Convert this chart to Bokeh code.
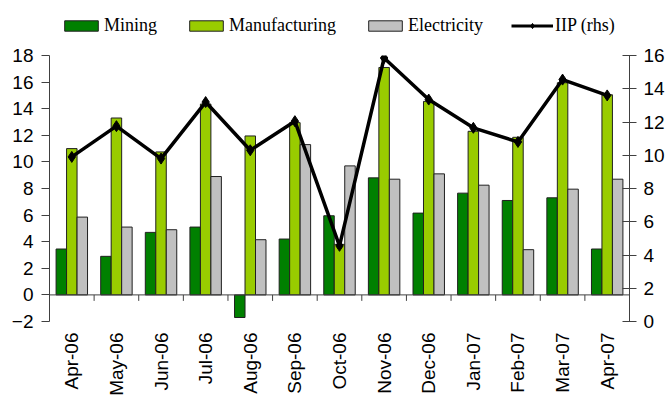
import numpy as np
from bokeh.plotting import figure
from bokeh.layouts import column
from bokeh.models import (LinearAxis, Range1d, FixedTicker, Legend, LegendItem, Span)
from bokeh.embed import file_html
from bokeh.resources import INLINE

months = ["Apr-06", "May-06", "Jun-06", "Jul-06", "Aug-06", "Sep-06", "Oct-06",
          "Nov-06", "Dec-06", "Jan-07", "Feb-07", "Mar-07", "Apr-07"]
mining = [3.45, 2.9, 4.7, 5.1, -1.7, 4.2, 5.95, 8.8, 6.15, 7.65, 7.1, 7.3, 3.45]
manufacturing = [11.0, 13.3, 10.75, 14.35, 11.95, 12.95, 3.8, 17.1, 14.55, 12.3, 11.85, 15.95, 15.05]
electricity = [5.85, 5.1, 4.9, 8.9, 4.15, 11.3, 9.7, 8.7, 9.1, 8.25, 3.4, 7.95, 8.7]
iip = [9.9, 11.75, 9.8, 13.2, 10.3, 12.05, 4.55, 15.85, 13.35, 11.65, 10.8, 14.55, 13.6]
series_names = ["Mining", "Manufacturing", "Electricity", "IIP (rhs)"]

left_ticks = list(range(-2, 19, 2))
right_ticks = list(range(0, 17, 2))

COL_MIN, COL_MAN, COL_ELE = "#008000", "#99cc00", "#c0c0c0"
OUTLINE = "#202020"

n = len(months)
xc = np.arange(n) + 0.5
bw = 0.235

# ---------------- legend strip ----------------
LEG_H = 43
lg = figure(width=668, height=LEG_H, output_backend="svg", toolbar_location=None,
            x_axis_type=None, y_axis_type=None, x_range=Range1d(0, 1), y_range=Range1d(0, 1),
            min_border_left=0, min_border_right=0, min_border_top=0, min_border_bottom=0)
lg.outline_line_color = None
lg.xgrid.visible = False
lg.ygrid.visible = False
lg.background_fill_color = "white"
lg.border_fill_color = "white"

# legend proxies (kept outside the visible range so only their legend swatches show)
d_min = lg.vbar(x=[-5], top=[-5], bottom=-6, width=0.1, fill_color=COL_MIN, line_color=OUTLINE)
d_man = lg.vbar(x=[-5], top=[-5], bottom=-6, width=0.1, fill_color=COL_MAN, line_color=OUTLINE)
d_ele = lg.vbar(x=[-5], top=[-5], bottom=-6, width=0.1, fill_color=COL_ELE, line_color=OUTLINE)
d_line = lg.line(x=[-5, -4], y=[-5, -5], line_color="black", line_width=3)
d_pts = lg.scatter(x=[-5], y=[-5], marker="diamond", size=9, fill_color="black", line_color="black")

legend = Legend(items=[
    LegendItem(label=series_names[0], renderers=[d_min]),
    LegendItem(label=series_names[1], renderers=[d_man]),
    LegendItem(label=series_names[2], renderers=[d_ele]),
    LegendItem(label=series_names[3], renderers=[d_line, d_pts]),
], orientation="horizontal", location=(11, 7))
legend.border_line_color = None
legend.background_fill_alpha = 0
legend.padding = 0
legend.margin = 0
legend.spacing = 28
legend.label_standoff = 2
legend.glyph_width = 42
legend.glyph_height = 13
legend.label_text_font = "Liberation Serif"
legend.label_text_font_size = "18px"
legend.label_text_color = "black"
lg.add_layout(legend, "center")

# ---------------- main chart ----------------
p = figure(width=668, height=402 - LEG_H, output_backend="svg", toolbar_location=None,
           x_range=Range1d(0, n), y_range=Range1d(-2, 18),
           min_border_left=49, min_border_right=39, min_border_top=12, min_border_bottom=81)
p.extra_y_ranges = {"rhs": Range1d(0, 16)}
p.outline_line_color = None
p.xgrid.visible = False
p.ygrid.visible = False
p.background_fill_color = "white"
p.border_fill_color = "white"

TICK_FONT = "Liberation Sans"
AX_COL = "#404040"
FS = "19px"

ly = p.yaxis[0]
ly.ticker = FixedTicker(ticks=left_ticks)
ly.major_tick_in = 0
ly.major_tick_out = 8
ly.minor_tick_line_color = None
ly.axis_line_color = AX_COL
ly.major_tick_line_color = AX_COL
ly.major_label_text_font = TICK_FONT
ly.major_label_text_font_size = FS
ly.major_label_text_color = "black"
ly.major_label_standoff = 8

ry = LinearAxis(y_range_name="rhs", ticker=FixedTicker(ticks=right_ticks))
ry.major_tick_in = 7
ry.major_tick_out = 7
ry.minor_tick_line_color = None
ry.axis_line_color = AX_COL
ry.major_tick_line_color = AX_COL
ry.major_label_text_font = TICK_FONT
ry.major_label_text_font_size = FS
ry.major_label_text_color = "black"
ry.major_label_standoff = 7
p.add_layout(ry, "right")

bx = p.xaxis[0]
bx.ticker = FixedTicker(ticks=list(xc))
bx.major_label_overrides = {float(x): m for x, m in zip(xc, months)}
bx.major_label_orientation = np.pi / 2
bx.axis_line_color = None
bx.major_tick_line_color = None
bx.minor_tick_line_color = None
bx.major_label_text_font = TICK_FONT
bx.major_label_text_font_size = FS
bx.major_label_text_color = "black"
bx.major_label_standoff = 5

p.add_layout(Span(location=0, dimension="width", line_color=AX_COL, line_width=1))
bounds = np.arange(n + 1)
p.segment(x0=bounds, y0=0, x1=bounds, y1=-0.45, line_color=AX_COL, line_width=1)

p.vbar(x=xc - bw, top=mining, width=bw, fill_color=COL_MIN, line_color=OUTLINE, line_width=1)
p.vbar(x=xc, top=manufacturing, width=bw, fill_color=COL_MAN, line_color=OUTLINE, line_width=1)
p.vbar(x=xc + bw, top=electricity, width=bw, fill_color=COL_ELE, line_color=OUTLINE, line_width=1)

p.line(x=xc, y=iip, y_range_name="rhs", line_color="black", line_width=3.5)
p.scatter(x=xc, y=iip, y_range_name="rhs", marker="diamond", size=11,
          fill_color="black", line_color="black")

layout = column(lg, p, spacing=0)
open("out.html", "w").write(file_html(layout, INLINE))
